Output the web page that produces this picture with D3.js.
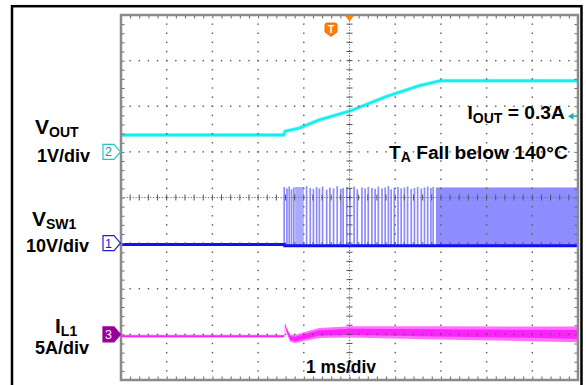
<!DOCTYPE html>
<html><head><meta charset="utf-8">
<script src="https://cdn.jsdelivr.net/npm/d3@7"></script>
<style>
body{margin:0;background:#fff}
svg{display:block}
text{font-family:"Liberation Sans",Arial,sans-serif;font-weight:bold;fill:#000}
</style>
</head><body>
<svg id="c" width="586" height="385"></svg>
<script>
// ---- data (time in ms, relative to trigger) ----
const timeDomain = [-5, 5];         // 10 divisions, 1 ms/div
const divDomain = [-4, 4];          // 8 vertical divisions
// VOUT (V), 1 V/div
const voutT = [-5, -1.44, -1.41, -1.10, -0.66, 0.02, 0.80, 1.53, 2.00, 5];
const voutV = [0.37, 0.37, 0.45, 0.52, 0.70, 0.90, 1.21, 1.45, 1.56, 1.56];
// VSW1 (V), 10 V/div
const vswBaseT = [-5, -1.43, -1.42, 5];
const vswBaseV = [-0.3, -0.3, -0.6, -0.6];
const vswPulseT = [-1.43,-1.37,-1.32,-1.27,-1.22,-0.94,-0.86,-0.79,-0.72,-0.66,-0.59,-0.50,-0.43,-0.35,-0.27,-0.19,-0.14,-0.06,0.01,0.10,0.17,0.27,0.34,0.41,0.49,0.56,0.63,0.71,0.78,0.85,0.91,0.98,1.06,1.13,1.20,1.27,1.35,1.42,1.49,1.57,1.64,1.71,1.78,1.83];
const vswPulseTop = [12.3,12.0,12.4,11.8,12.2,12.5,12.1,11.9,12.3,12.0,12.4,11.7,12.2,12.0,12.5,11.9,12.1,12.3,12.0,12.4,11.8,12.2,12.0,12.3,12.1,11.9,12.4,12.0,12.2,12.5,11.8,12.1,12.3,12.0,12.2,12.4,11.9,12.1,12.3,12.0,12.2,12.4,12.1,12.3];
const vswDenseStart = [-1.19, 1.89];
const vswDenseEnd = [-1.00, 5];
const vswDenseTop = [12.3, 12.2];
// IL1 (A), 5 A/div
const il1T = [-5, -1.43, -1.41, -1.38, -1.30, -1.19, -0.67, 0.01, 1.89, 5];
const il1Mid = [-0.2, -0.2, 1.05, 0.5, -0.4, -0.5, 0.15, 0.28, 0.17, 0.0];
const il1Half = [0.15, 0.15, 0.2, 0.3, 0.4, 0.45, 0.55, 0.62, 0.73, 0.85];
// channel settings: ground position (div) and units per div
const chGround = {ch1: -1, ch2: 1, ch3: -3};
const chPerDiv = {ch1: 10, ch2: 1, ch3: 5};

// ---- scales ----
const svg = d3.select('#c');
const x = d3.scaleLinear().domain(timeDomain).range([121, 578]);
const y = d3.scaleLinear().domain(divDomain).range([380, 15]);
const yc = (ch, v) => y(chGround[ch] + v / chPerDiv[ch]);

// outer border
svg.append('rect').attr('x', 12).attr('y', 6.2).attr('width', 569.5).attr('height', 400)
  .attr('fill', 'none').attr('stroke', '#000').attr('stroke-width', 2.5);

const plot = svg.append('g');

// VSW1 dense switching regions
plot.selectAll('rect.dense').data(vswDenseStart).join('rect').attr('class', 'dense')
  .attr('x', (d) => x(d))
  .attr('width', (d, i) => x(vswDenseEnd[i]) - x(d))
  .attr('y', (d, i) => yc('ch1', vswDenseTop[i]))
  .attr('height', (d, i) => yc('ch1', -0.6) - yc('ch1', vswDenseTop[i]))
  .attr('fill', (d, i) => i === 0 ? '#a9a9ff' : '#8d8dff');
// VSW1 individual pulses
plot.selectAll('rect.pulse').data(vswPulseT).join('rect').attr('class', 'pulse')
  .attr('x', (d) => x(d) - 0.8).attr('width', 1.7)
  .attr('y', (d, i) => yc('ch1', vswPulseTop[i]))
  .attr('height', (d, i) => yc('ch1', -0.6) - yc('ch1', vswPulseTop[i]))
  .attr('fill', '#7f7fff').attr('opacity', 0.9);
// VSW1 baseline
const baseData = vswBaseT.map((t, i) => [t, vswBaseV[i]]);
plot.append('path').datum(baseData)
  .attr('d', d3.line().x((d) => x(d[0])).y((d) => yc('ch1', d[1])))
  .attr('fill', 'none').attr('stroke', '#1010f0').attr('stroke-width', 3);

// VOUT
const voutData = voutT.map((t, i) => [t, voutV[i]]);
plot.append('path').datum(voutData)
  .attr('d', d3.line().x((d) => x(d[0])).y((d) => yc('ch2', d[1])))
  .attr('fill', 'none').attr('stroke', '#8ff8f8').attr('stroke-width', 4);
plot.append('path').datum(voutData)
  .attr('d', d3.line().x((d) => x(d[0])).y((d) => yc('ch2', d[1])))
  .attr('fill', 'none').attr('stroke', '#14eeee').attr('stroke-width', 2.4);

// IL1
const ilData = il1T.map((t, i) => [t, il1Mid[i], il1Half[i]]);
plot.append('path').datum(ilData)
  .attr('d', d3.area().x((d) => x(d[0])).y0((d) => yc('ch3', d[1] - d[2])).y1((d) => yc('ch3', d[1] + d[2])))
  .attr('fill', '#ff70ff');
plot.append('path').datum(ilData)
  .attr('d', d3.area().x((d) => x(d[0])).y0((d) => yc('ch3', d[1] - d[2] * 0.55)).y1((d) => yc('ch3', d[1] + d[2] * 0.55)))
  .attr('fill', '#ff22ff');

// ---- graticule ----
const g = svg.append('g');
const xMinor = d3.range(-5, 5.0001, 0.2);
const yMinor = d3.range(-4, 4.0001, 0.2);
const xMajor = d3.range(-4, 5, 1).filter((d) => d !== 0);
const yMajor = d3.range(-3, 4, 1).filter((d) => d !== 0);
const dots = [];
xMajor.forEach((xv) => yMinor.slice(1, -1).forEach((yv) => dots.push([xv, yv])));
yMajor.forEach((yv) => xMinor.slice(1, -1).forEach((xv) => dots.push([xv, yv])));
g.selectAll('rect.dot').data(dots).join('rect').attr('class', 'dot')
  .attr('x', (d) => x(d[0]) - 0.7).attr('y', (d) => y(d[1]) - 0.7)
  .attr('width', 1.4).attr('height', 1.4).attr('fill', '#555');
// center lines
g.append('line').attr('x1', x(0)).attr('x2', x(0)).attr('y1', y(4)).attr('y2', y(-4))
  .attr('stroke', '#777').attr('stroke-dasharray', '1.3,1.6');
g.append('line').attr('x1', x(-5)).attr('x2', x(5)).attr('y1', y(0)).attr('y2', y(0))
  .attr('stroke', '#777').attr('stroke-dasharray', '1.3,1.6');
g.selectAll('line.ct').data(yMinor.slice(1, -1)).join('line').attr('class', 'ct')
  .attr('x1', x(0) - 3).attr('x2', x(0) + 3).attr('y1', (d) => y(d)).attr('y2', (d) => y(d))
  .attr('stroke', '#555');
g.selectAll('line.cx').data(xMinor.slice(1, -1)).join('line').attr('class', 'cx')
  .attr('y1', y(0) - 3).attr('y2', y(0) + 3).attr('x1', (d) => x(d)).attr('x2', (d) => x(d))
  .attr('stroke', '#555');
// frame ticks via axes
const noLab = () => '';
const styleAx = (sel) => { sel.select('.domain').remove(); sel.selectAll('line').attr('stroke', '#666'); sel.selectAll('text').remove(); };
g.append('g').attr('transform', `translate(0,${y(4)})`).call(d3.axisBottom(x).tickValues(xMinor).tickSize(3.5).tickFormat(noLab)).call(styleAx);
g.append('g').attr('transform', `translate(0,${y(-4)})`).call(d3.axisTop(x).tickValues(xMinor).tickSize(3.5).tickFormat(noLab)).call(styleAx);
g.append('g').attr('transform', `translate(${x(-5)},0)`).call(d3.axisRight(y).tickValues(yMinor).tickSize(3.5).tickFormat(noLab)).call(styleAx);
g.append('g').attr('transform', `translate(${x(5)},0)`).call(d3.axisLeft(y).tickValues(yMinor).tickSize(3.5).tickFormat(noLab)).call(styleAx);
g.append('rect').attr('x', x(-5)).attr('y', y(4)).attr('width', x(5) - x(-5)).attr('height', y(-4) - y(4))
  .attr('fill', 'none').attr('stroke', '#8a8a8a').attr('stroke-width', 2.5);

// ---- channel markers ----
function marker(ch, label, stroke, fill, txt) {
  const cy = yc(ch, 0);
  const m = svg.append('g');
  m.append('path').attr('d', `M103,${cy - 7.5}H114L120.5,${cy}L114,${cy + 7.5}H103Z`)
    .attr('fill', fill).attr('stroke', stroke).attr('stroke-width', 1.2);
  m.append('text').attr('x', 108.5).attr('y', cy + 4.5).attr('text-anchor', 'middle')
    .style('font-size', '12.5px').style('font-weight', 'normal').style('fill', txt).text(label);
}
marker('ch2', '2', '#22c8c8', '#fff', '#149a9a');
marker('ch1', '1', '#2020d0', '#fff', '#1a1ac0');
marker('ch3', '3', '#990099', '#990099', '#fff');

// trigger markers
svg.append('path').attr('d', `M${x(0) - 4.5},15.5H${x(0) + 4.5}L${x(0)},21.5Z`).attr('fill', '#ff7f00');
svg.append('path').attr('d', 'M325,25Q325,23 327,23H335Q337,23 337,25V32L331,36.5L325,32Z')
  .attr('fill', '#ff7f00').attr('stroke', '#e06000').attr('stroke-width', 0.8);
svg.append('text').attr('x', 331).attr('y', 33).attr('text-anchor', 'middle')
  .style('font-size', '10px').style('fill', '#fff').text('T');
// ch2 level marker on right
const lv = yc('ch2', 0.78);
svg.append('path').attr('d', `M568,${lv}L573.5,${lv - 3.5}V${lv + 3.5}Z`).attr('fill', '#20b0b0');
svg.append('line').attr('x1', 573).attr('x2', 578).attr('y1', lv).attr('y2', lv).attr('stroke', '#20b0b0').attr('stroke-width', 1.2);

// ---- labels ----
function label(xp, yp, main, sub, rest, size, subSize) {
  const t = svg.append('text').attr('x', xp).attr('y', yp).style('font-size', size + 'px');
  t.append('tspan').text(main);
  if (sub) t.append('tspan').attr('dy', 3.6).style('font-size', subSize + 'px').text(sub);
  if (rest) t.append('tspan').attr('dy', sub ? -3.6 : 0).text(rest);
}
label(35, 133.5, 'V', 'OUT', null, 21, 14);
label(37, 161.5, '1V/div', null, null, 18);
label(32, 225.5, 'V', 'SW1', null, 21, 14);
label(26, 251.7, '10V/div', null, null, 18);
label(55, 332.5, 'I', 'L1', null, 21, 14);
label(35, 354.3, '5A/div', null, null, 18);
label(467.5, 119.3, 'I', 'OUT', ' = 0.3A', 19.2, 14);
label(389, 158.5, 'T', 'A', ' Fall below 140°C', 19.2, 14);
label(306, 373.3, '1 ms/div', null, null, 17.5);
</script>
</body></html>
